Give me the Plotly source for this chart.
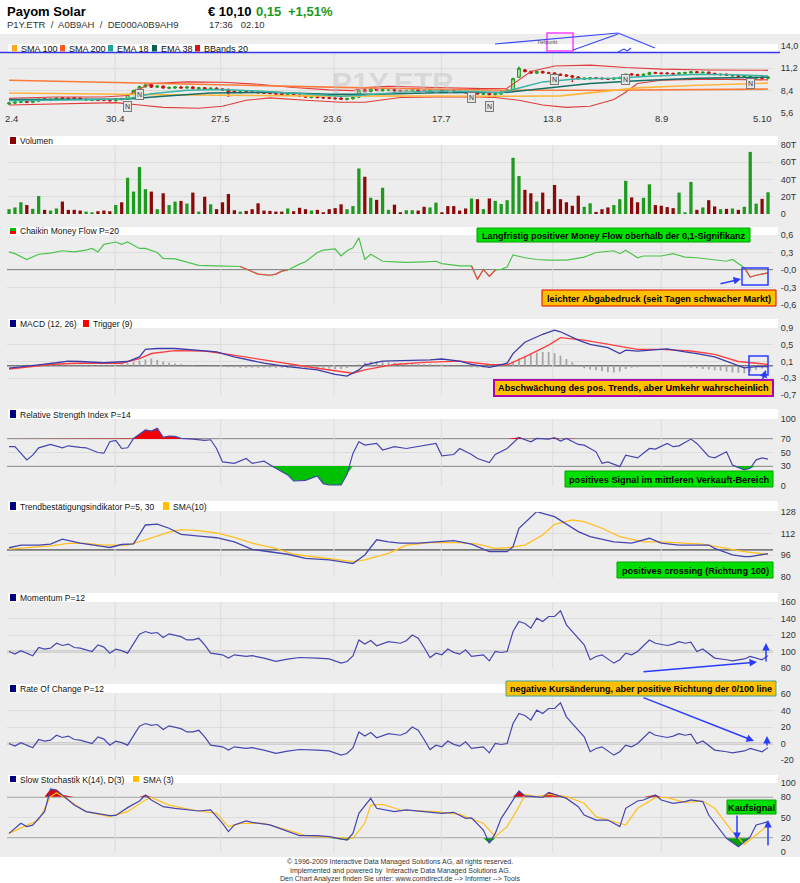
import plotly.graph_objects as go

# ------------------------------------------------------------------ data
date_labels = ["2.4", "30.4", "27.5", "23.6", "17.7", "13.8", "8.9", "5.10"]
date_label_idx = [0.5, 17.9, 35.6, 54.6, 73.0, 91.7, 110.0, 127.0]
grid_idx = [17.9, 35.7, 54.8, 72.9, 91.7, 110.0]

closes = [6.85, 6.95, 7.05, 6.95, 7.10, 7.30, 7.25, 7.30, 7.45, 7.40,
          7.35, 7.45, 7.40, 7.30, 7.25, 7.20, 7.20, 7.15, 7.35, 7.30,
          7.90, 8.40, 8.90, 9.10, 8.85, 8.95, 8.75, 8.80, 8.85, 8.75,
          8.85, 8.70, 8.75, 8.65, 8.70, 8.60, 8.50, 8.10, 8.20, 8.25,
          8.25, 8.20, 8.15, 8.10, 8.05, 8.00, 7.90, 7.95, 7.85, 7.75,
          7.60, 7.65, 7.55, 7.50, 7.45, 7.40, 7.35, 7.40, 7.55, 8.40,
          8.30, 8.60, 8.45, 8.55, 8.50, 8.40, 8.35, 8.40, 8.45, 8.40,
          8.35, 8.40, 8.45, 8.40, 8.35, 8.30, 8.25, 8.15, 8.20, 8.00,
          8.05, 7.90, 8.00, 8.20, 8.50, 9.90, 11.20, 10.80, 10.60, 10.80,
          10.65, 10.60, 10.45, 10.35, 10.25, 10.10, 9.90, 9.95, 10.00, 9.95,
          9.90, 9.85, 9.95, 10.05, 10.45, 10.40, 10.30, 10.45, 10.65, 10.60,
          10.55, 10.55, 10.50, 10.60, 10.65, 10.75, 10.70, 10.70, 10.55, 10.45,
          10.45, 10.35, 10.30, 10.20, 10.25, 10.15, 10.05, 9.95, 10.10]
opens = [6.75, 6.85, 6.95, 7.05, 6.95, 7.10, 7.35, 7.20, 7.30, 7.50,
         7.45, 7.50, 7.45, 7.25, 7.20, 7.25, 7.25, 7.20, 7.15, 7.40,
         7.35, 7.95, 8.40, 8.90, 9.15, 8.85, 8.95, 8.70, 8.75, 8.85,
         8.75, 8.85, 8.65, 8.75, 8.60, 8.70, 8.60, 8.55, 8.30, 8.15,
         8.30, 8.25, 8.20, 8.15, 8.10, 8.05, 8.00, 7.85, 7.95, 7.85,
         7.75, 7.55, 7.65, 7.55, 7.50, 7.45, 7.45, 7.30, 7.40, 7.60,
         8.50, 8.30, 8.60, 8.40, 8.45, 8.50, 8.40, 8.35, 8.40, 8.45,
         8.40, 8.35, 8.40, 8.45, 8.40, 8.35, 8.30, 8.25, 8.10, 8.20,
         7.95, 8.05, 7.90, 8.00, 8.20, 8.50, 10.10, 11.00, 10.80, 10.60,
         10.80, 10.65, 10.60, 10.45, 10.35, 10.25, 10.10, 9.85, 9.90, 10.00,
         9.95, 9.90, 9.85, 9.95, 10.05, 10.50, 10.40, 10.30, 10.45, 10.65,
         10.60, 10.60, 10.55, 10.50, 10.60, 10.65, 10.75, 10.65, 10.70, 10.55,
         10.40, 10.45, 10.25, 10.30, 10.15, 10.05, 9.95, 10.10, 9.95]
highs = [6.90, 7.00, 7.10, 7.10, 7.15, 7.35, 7.40, 7.35, 7.50, 7.55,
         7.50, 7.55, 7.50, 7.35, 7.30, 7.30, 7.30, 7.25, 7.40, 7.45,
         7.95, 8.45, 8.95, 9.20, 9.20, 9.00, 9.00, 8.85, 8.90, 8.90,
         8.90, 8.90, 8.80, 8.80, 8.75, 8.75, 8.65, 8.60, 8.35, 8.30,
         8.35, 8.30, 8.25, 8.20, 8.15, 8.10, 8.05, 8.00, 8.00, 7.90,
         7.80, 7.70, 7.70, 7.60, 7.55, 7.50, 7.50, 7.45, 7.60, 8.50,
         8.60, 8.65, 8.65, 8.60, 8.55, 8.55, 8.45, 8.45, 8.50, 8.50,
         8.45, 8.45, 8.50, 8.50, 8.45, 8.40, 8.35, 8.30, 8.25, 8.25,
         8.10, 8.10, 8.05, 8.25, 8.55, 9.95, 11.35, 11.05, 10.85, 10.85,
         10.85, 10.70, 10.65, 10.50, 10.40, 10.30, 10.15, 10.00, 10.05, 10.05,
         10.00, 9.95, 10.00, 10.10, 10.50, 10.55, 10.45, 10.50, 10.70, 10.70,
         10.65, 10.65, 10.60, 10.65, 10.70, 10.80, 10.80, 10.75, 10.75, 10.60,
         10.50, 10.50, 10.35, 10.35, 10.30, 10.20, 10.10, 10.15, 10.15]
lows = [6.70, 6.80, 6.90, 6.90, 6.90, 7.05, 7.20, 7.15, 7.25, 7.35,
        7.30, 7.40, 7.35, 7.20, 7.15, 7.15, 7.15, 7.10, 7.10, 7.25,
        7.30, 7.90, 8.35, 8.85, 8.80, 8.80, 8.70, 8.65, 8.70, 8.70,
        8.70, 8.65, 8.60, 8.60, 8.55, 8.55, 8.45, 7.70, 8.15, 8.10,
        8.20, 8.15, 8.10, 8.05, 8.00, 7.95, 7.85, 7.80, 7.80, 7.70,
        7.55, 7.50, 7.50, 7.45, 7.40, 7.35, 7.30, 7.25, 7.35, 7.55,
        8.25, 8.25, 8.40, 8.35, 8.40, 8.35, 8.30, 8.30, 8.35, 8.35,
        8.30, 8.30, 8.35, 8.35, 8.30, 8.25, 8.20, 8.10, 8.05, 7.95,
        7.90, 7.60, 7.85, 7.95, 8.15, 8.45, 10.05, 10.75, 10.55, 10.55,
        10.60, 10.55, 10.40, 10.30, 10.20, 9.55, 9.85, 9.80, 9.85, 9.90,
        9.85, 9.80, 9.80, 9.90, 10.00, 10.35, 10.25, 10.25, 10.40, 10.55,
        10.50, 10.50, 10.45, 10.45, 10.55, 10.60, 10.65, 10.60, 10.50, 10.40,
        10.35, 10.30, 10.20, 10.15, 10.10, 10.00, 9.90, 9.90, 9.90]

sma100 = [(0, 8.10), (15, 7.95), (30, 7.85), (50, 7.75), (70, 7.70), (85, 7.70), (93, 7.75),
          (100, 8.30), (106, 8.75), (115, 9.05), (128, 9.35)]
sma200 = [(0, 9.70), (15, 9.45), (30, 9.20), (45, 8.95), (60, 8.75), (75, 8.55), (85, 8.45),
          (100, 8.45), (115, 8.55), (128, 8.60)]
ema18 = [(0, 7.15), (8, 7.20), (16, 7.30), (20, 7.40), (24, 8.00), (30, 8.45), (36, 8.55),
         (42, 8.35), (50, 8.00), (56, 7.70), (60, 7.85), (66, 8.20), (72, 8.35), (78, 8.30),
         (83, 8.15), (86, 8.70), (90, 9.50), (96, 9.90), (102, 9.95), (108, 10.20), (116, 10.45),
         (122, 10.40), (128, 10.25)]
ema38 = [(0, 7.30), (10, 7.30), (20, 7.35), (26, 7.70), (34, 8.10), (44, 8.20), (54, 7.95),
         (62, 7.95), (72, 8.15), (84, 8.20), (90, 8.70), (98, 9.30), (106, 9.65), (116, 9.95),
         (128, 10.10)]
bb_upper = [(0, 7.45), (8, 7.60), (16, 7.60), (20, 7.80), (22, 8.60), (24, 9.30), (30, 9.50),
            (36, 9.45), (42, 9.20), (48, 8.80), (54, 8.50), (58, 8.40), (60, 8.80), (64, 8.95),
            (72, 8.80), (80, 8.65), (84, 8.70), (86, 9.80), (88, 10.80), (92, 11.50), (98, 11.60),
            (104, 11.30), (110, 11.10), (118, 11.00), (128, 10.95)]
bb_lower = [(0, 6.60), (10, 6.75), (18, 6.90), (22, 6.60), (26, 6.30), (32, 6.20), (36, 6.45),
            (40, 7.20), (44, 7.50), (50, 7.20), (56, 6.95), (60, 6.95), (66, 7.55), (72, 7.60),
            (78, 7.65), (82, 7.55), (86, 7.20), (90, 6.60), (94, 6.30), (98, 6.45), (102, 7.30),
            (104, 8.20), (106, 9.30), (110, 9.70), (118, 9.85), (128, 9.75)]
news_idx = [20, 22, 78, 81, 92, 104, 125]
news_price = [6.47, 7.95, 7.53, 6.47, 9.77, 9.77, 9.25]

volume = [5.6, 7.6, 13.6, 10.4, 6.0, 20.8, 4.8, 4.0, 6.4, 14.4,
          4.8, 4.8, 4.0, 2.8, 2.0, 3.2, 4.0, 3.2, 10.4, 13.6,
          42.0, 26.0, 54.4, 28.8, 26.0, 5.6, 24.0, 10.4, 14.4, 15.2,
          12.0, 24.8, 2.8, 20.0, 11.2, 5.6, 13.6, 23.2, 4.4, 2.8,
          3.6, 5.6, 12.4, 4.0, 3.6, 2.8, 2.8, 6.4, 3.2, 7.2,
          5.6, 4.0, 4.8, 2.0, 5.6, 6.8, 11.2, 5.6, 9.2, 52.8,
          43.2, 18.8, 16.4, 30.4, 4.8, 10.8, 2.0, 4.4, 4.4, 4.0,
          8.4, 7.6, 13.2, 2.0, 9.2, 9.2, 4.0, 6.4, 18.0, 17.2,
          5.6, 18.0, 15.2, 11.6, 16.0, 65.2, 44.0, 28.0, 24.0, 14.4,
          24.8, 5.6, 33.6, 17.2, 13.6, 9.6, 21.2, 8.4, 12.4, 2.4,
          5.6, 7.6, 10.4, 17.2, 38.4, 19.2, 13.6, 18.8, 34.4, 10.4,
          9.6, 8.0, 6.8, 24.8, 2.0, 37.2, 4.8, 7.6, 16.0, 8.8,
          5.6, 6.0, 6.4, 4.8, 8.4, 72.0, 12.0, 17.6, 25.2]
volume_dir = ("gggrggrggr" "rrrggrrrgr" "ggggrgrggr" "grgrgrrrrg" "rrrrrrrgrr"
              "rgrrrrrggg" "rgrggrrggr" "rggrrrrrgr" "grgggggrrg" "rrrrrrrggr"
              "rrgggrrggr" "rrrgggrgrr" "grgrgggrg")

cmf = [(0, 0.31), (1, 0.28), (3, 0.18), (5, 0.27), (7, 0.29), (9, 0.33), (11, 0.31), (13, 0.34),
       (14, 0.37), (15, 0.31), (16, 0.44), (18, 0.48), (19, 0.44), (20, 0.48), (22, 0.37),
       (23, 0.37), (25, 0.30), (26, 0.20), (28, 0.19), (30, 0.13), (32, 0.08), (35, 0.07),
       (38, 0.07), (39, 0.06), (41, -0.03), (42, -0.07), (44, -0.09), (45, -0.07), (46, -0.02),
       (47, 0.0), (49, 0.10), (50, 0.14), (52, 0.30), (53, 0.34), (55, 0.36), (56, 0.24),
       (57, 0.33), (58, 0.38), (59, 0.55), (60, 0.18), (61, 0.27), (63, 0.15), (65, 0.14),
       (67, 0.13), (70, 0.14), (72, 0.15), (73, 0.11), (76, 0.07), (78, 0.07), (79, -0.16),
       (80, 0.01), (81, -0.11), (82, 0.0), (83, 0.01), (84, 0.05), (85, 0.26), (87, 0.21),
       (89, 0.18), (91, 0.17), (94, 0.17), (97, 0.22), (99, 0.30), (102, 0.33), (103, 0.28),
       (104, 0.34), (106, 0.21), (107, 0.24), (110, 0.24), (112, 0.28), (114, 0.22),
       (116, 0.21), (119, 0.18), (121, 0.15), (122, 0.18), (124, 0.04), (125, -0.12),
       (126, -0.09), (128, -0.05)]

macd = [(0, -0.06), (3, -0.02), (5, 0.02), (8, 0.07), (10, 0.11), (12, 0.10), (16, 0.07),
        (20, 0.10), (22, 0.21), (23, 0.39), (25, 0.41), (28, 0.41), (31, 0.37), (35, 0.33),
        (38, 0.21), (43, 0.06), (47, -0.02), (52, -0.10), (55, -0.21), (57, -0.25), (59, -0.10),
        (60, 0.02), (63, 0.11), (67, 0.12), (71, 0.14), (73, 0.16), (76, 0.11), (78, 0.03),
        (81, -0.04), (82, -0.01), (84, 0.06), (85, 0.29), (87, 0.56), (90, 0.75), (92, 0.85),
        (93, 0.81), (96, 0.61), (98, 0.51), (101, 0.43), (103, 0.29), (104, 0.37), (106, 0.35),
        (109, 0.39), (111, 0.40), (114, 0.33), (116, 0.29), (119, 0.21), (122, 0.06),
        (124, -0.05), (126, -0.02), (128, -0.02)]
trigger = [(0, -0.08), (7, 0.03), (11, 0.06), (19, 0.06), (22, 0.17), (24, 0.29), (28, 0.36),
           (33, 0.35), (37, 0.27), (41, 0.18), (47, 0.06), (52, -0.06), (58, -0.18), (60, -0.10),
           (65, 0.03), (70, 0.08), (76, 0.11), (81, 0.03), (84, 0.02), (87, 0.21), (91, 0.49),
           (93, 0.67), (97, 0.61), (102, 0.49), (106, 0.39), (110, 0.39), (115, 0.35),
           (119, 0.27), (123, 0.10), (128, 0.03)]
macd_hist = [-0.02, -0.02, 0.02, 0.03, 0.02, 0.03, 0.04, 0.04, 0.04, 0.03,
             0.03, 0.03, 0.03, 0.02, 0.02, 0.01, 0.01, 0.02, 0.03, 0.05,
             0.06, 0.09, 0.12, 0.15, 0.17, 0.14, 0.10, 0.07, 0.05, 0.04,
             0.02, 0.01, 0.00, 0.00, -0.01, -0.02, -0.03, -0.04, -0.04, -0.05,
             -0.05, -0.05, -0.05, -0.05, -0.05, -0.05, -0.05, -0.06, -0.06, -0.06,
             -0.06, -0.07, -0.07, -0.07, -0.07, -0.08, -0.08, -0.06, -0.02, 0.03,
             0.08, 0.10, 0.10, 0.09, 0.08, 0.07, 0.06, 0.05, 0.05, 0.04,
             0.04, 0.04, 0.03, 0.03, 0.02, 0.01, 0.00, -0.02, -0.04, -0.05,
             -0.05, -0.05, -0.03, -0.01, 0.04, 0.10, 0.17, 0.24, 0.29, 0.31,
             0.33, 0.33, 0.30, 0.24, 0.16, 0.08, -0.02, -0.06, -0.09, -0.11,
             -0.13, -0.15, -0.16, -0.14, -0.08, -0.05, -0.04, -0.03, -0.02, -0.01,
             0.00, -0.01, -0.02, -0.03, -0.04, -0.05, -0.06, -0.08, -0.09, -0.11,
             -0.12, -0.14, -0.16, -0.17, -0.18, -0.14, -0.10, -0.07, -0.05]

rsi = [(0, 58.7), (1, 58.7), (3, 38.8), (4, 46), (5, 57), (7, 62), (9, 57), (10, 60), (12, 57.7),
       (13, 57), (15, 50), (16, 49), (17, 66), (18, 68), (19, 56), (20, 57), (21, 71), (23, 83.6),
       (24, 82), (25, 86), (26, 72.6), (27, 74.6), (28, 74), (29, 71), (31, 70), (33, 68),
       (34, 69), (35, 56), (36, 36), (38, 33.8), (40, 41), (41, 33.8), (43, 37), (44, 31.4),
       (45, 26.4), (47, 16.5), (48, 7.5), (50, 8.5), (52, 14.9), (53, 3.5), (54, 1.5), (56, 1.5),
       (57, 17.4), (58, 48.7), (59, 66), (60, 61), (62, 63.5), (63, 53.7), (65, 58.7), (67, 56),
       (70, 61), (72, 63.5), (73, 45), (75, 47), (76, 56), (78, 47), (79, 41), (81, 35), (82, 47),
       (84, 56), (86, 72.6), (87, 69.7), (88, 66), (89, 71), (91, 70), (92, 72), (93, 67),
       (94, 71), (96, 62), (97, 61), (99, 51), (100, 33.8), (101, 36), (103, 28.9), (104, 46),
       (106, 42), (108, 56), (109, 55), (111, 63.5), (112, 58.7), (113, 60), (115, 70),
       (116, 63.5), (118, 44), (119, 42), (121, 51), (122, 31.4), (124, 24), (125, 26.4),
       (126, 39), (127, 42), (128, 40)]

tbi = [(0, 101.6), (2, 103.6), (5, 103.6), (7, 104.3), (9, 108), (11, 106), (12, 105),
       (16, 102.4), (17, 101.8), (19, 104), (21, 104.5), (23, 118.4), (25, 119), (27, 116),
       (29, 111.5), (33, 109.8), (35, 109), (38, 106), (41, 100.4), (43, 99.2), (47, 96.8),
       (50, 93.8), (54, 92.6), (57, 90.6), (58, 90), (60, 96.3), (62, 107.5), (64, 106),
       (66, 105), (69, 105), (72, 106), (75, 106.8), (78, 104.3), (81, 98.7), (84, 98.7),
       (85, 102.4), (86, 116), (89, 128.3), (90, 127), (92, 124.6), (96, 113.5), (98, 109.8),
       (102, 106), (105, 105), (108, 108.6), (110, 105), (113, 103.6), (115, 103.6),
       (118, 103.6), (119, 101.2), (122, 96.3), (124, 95), (125, 95), (128, 97.3)]
tbi_sma = [(0, 100.6), (7, 103), (10, 104.8), (13, 104.8), (16, 103.6), (20, 103.6), (23, 107.5),
           (27, 113.2), (29, 115), (32, 114.2), (35, 112.5), (38, 109.3), (41, 105), (45, 101.2),
           (48, 96.8), (53, 93.8), (58, 91.3), (60, 92.6), (64, 97.5), (67, 103.6), (71, 105.4),
           (76, 105.4), (79, 104.3), (82, 101.2), (84, 101.6), (87, 103.6), (90, 111),
           (92, 118.9), (95, 122.1), (97, 120.9), (100, 116), (103, 109.8), (107, 106),
           (110, 106), (114, 104.8), (117, 104.3), (121, 101.2), (124, 98.7), (127, 97.3),
           (128, 96.8)]

momentum = [(0, 100), (1, 97), (2, 101), (3, 98), (4, 94.7), (5, 104.8), (6, 103), (7, 104),
            (8, 110), (9, 107.3), (10, 109), (11, 104.8), (12, 104), (14, 100), (15, 108),
            (16, 105.3), (17, 98), (18, 102.8), (19, 101), (20, 98), (21, 108.9), (22, 121),
            (23, 124.2), (24, 122), (25, 123), (26, 117), (27, 121.4), (29, 118), (30, 114),
            (31, 114), (32, 116), (33, 108), (34, 98), (36, 96), (37, 92), (38, 96), (40, 94),
            (41, 95), (43, 92), (45, 88), (47, 90.7), (49, 92.7), (52, 92), (54, 91), (56, 85.9),
            (57, 87.9), (58, 94.7), (59, 114), (60, 109), (61, 113.3), (62, 106.9), (63, 109),
            (64, 112), (66, 110), (67, 113), (68, 120), (69, 116), (70, 104.8), (71, 92.7),
            (72, 98), (73, 96), (74, 103), (75, 99), (76, 96.8), (77, 102), (78, 94), (80, 96),
            (81, 88.7), (82, 100), (83, 98.8), (84, 100), (85, 124.2), (86, 136.4), (87, 134),
            (88, 128.3), (89, 140.4), (90, 136.4), (91, 142.4), (92, 142.4), (93, 149.3),
            (94, 132.3), (95, 124.2), (97, 108), (98, 90), (99, 94), (100, 96), (102, 85.9),
            (103, 90), (104, 98), (105, 96), (106, 100), (108, 114), (109, 110), (111, 107.3),
            (112, 109), (113, 112), (114, 110), (115, 111.3), (116, 100), (117, 103), (119, 92),
            (121, 90), (122, 88.7), (124, 91), (125, 94), (127, 90), (128, 95)]

roc = [(0, 0), (1, -3), (2, 1), (3, -2), (4, -5.3), (5, 4.8), (6, 3), (7, 4), (8, 10), (9, 7.3),
       (10, 9), (11, 4.8), (12, 4), (14, 0), (15, 8), (16, 5.3), (17, -2), (18, 2.8), (19, 1),
       (20, -2), (21, 8.9), (22, 21), (23, 24.2), (24, 22), (25, 23), (26, 17), (27, 21.4),
       (29, 18), (30, 14), (31, 14), (32, 16), (33, 8), (34, -2), (36, -4), (37, -8), (38, -4),
       (40, -6), (41, -5), (43, -8), (45, -12), (47, -9.3), (49, -7.3), (52, -8), (54, -9),
       (56, -14.1), (57, -12.1), (58, -5.3), (59, 14), (60, 9), (61, 13.3), (62, 6.9), (63, 9),
       (64, 12), (66, 10), (67, 13), (68, 20), (69, 16), (70, 4.8), (71, -7.3), (72, -2),
       (73, -4), (74, 3), (75, -1), (76, -3.2), (77, 2), (78, -6), (80, -4), (81, -11.3),
       (82, 0), (83, -1.2), (84, 0), (85, 24.2), (86, 36.4), (87, 34), (88, 28.3), (89, 40.4),
       (90, 36.4), (91, 42.4), (92, 42.4), (93, 49.3), (94, 32.3), (95, 24.2), (97, 8),
       (98, -10), (99, -6), (100, -4), (102, -14.1), (103, -10), (104, -2), (105, -4), (106, 0),
       (108, 14), (109, 10), (111, 7.3), (112, 9), (113, 12), (114, 10), (115, 11.3), (116, 0),
       (117, 3), (119, -8), (121, -10), (122, -11.3), (124, -9), (125, -6), (127, -10), (128, -5)]

stoch_k = [(0, 27), (2, 41.6), (3, 36.8), (4, 39), (6, 58.5), (7, 91.3), (8, 89.9), (9, 82.6),
           (11, 68), (13, 58.5), (15, 56), (17, 52.6), (18, 53), (20, 64.3), (22, 73.9),
           (23, 82.6), (24, 75.4), (26, 65.7), (28, 63.3), (30, 60.9), (32, 59.4), (34, 61),
           (36, 41.6), (37, 29.5), (38, 39.2), (40, 45), (41, 43), (44, 39.2), (47, 29.5),
           (49, 23.7), (52, 23.7), (54, 22.2), (57, 17.4), (58, 27), (59, 56), (61, 77.7),
           (62, 63.3), (65, 58.5), (67, 61), (70, 58.5), (73, 56), (75, 57.5), (77, 48.7),
           (78, 49.6), (80, 31.9), (81, 12.6), (82, 27), (83, 48.7), (85, 75.4), (86, 88.4),
           (87, 81.2), (88, 80.2), (90, 79.2), (91, 86.5), (92, 83.6), (94, 77.7), (96, 65.7),
           (97, 53.6), (99, 46.3), (101, 46.3), (103, 36.8), (104, 63.3), (106, 73.9),
           (107, 75.4), (109, 82.6), (110, 75.4), (112, 70.6), (114, 73), (115, 75.4),
           (117, 73), (118, 53.6), (121, 19.8), (123, 7.7), (125, 22.2), (126, 39.2), (128, 44)]
stoch_d = [(0, 27), (3, 39.1), (5, 46.4), (7, 80.2), (8, 86), (10, 75.4), (13, 58.5), (17, 51.2),
           (20, 58.5), (23, 75.4), (24, 79.2), (27, 68), (31, 60.9), (35, 56), (37, 36.8),
           (39, 41.6), (43, 41.6), (47, 31.9), (50, 23.7), (55, 20.8), (58, 19.8), (60, 41.6),
           (61, 68), (63, 69), (66, 60.9), (72, 58.5), (76, 54.6), (80, 41.6), (82, 22.2),
           (84, 36.8), (86, 65.7), (87, 83.6), (89, 80.2), (91, 83.6), (94, 80.2), (97, 70.6),
           (99, 51.2), (102, 43.9), (104, 39.1), (106, 63.3), (109, 78.7), (111, 78.7),
           (114, 71.9), (117, 73.9), (119, 63.3), (122, 29.5), (124, 11.1), (126, 24.6),
           (128, 39.1)]

price_ticks = [14.0, 11.2, 8.4, 5.6]
price_tick_text = ["14,0", "11,2", "8,4", "5,6"]
vol_ticks = [80, 60, 40, 20, 0]
vol_tick_text = ["80T", "60T", "40T", "20T", "0"]
cmf_ticks = [0.6, 0.3, 0.0, -0.3, -0.6]
cmf_tick_text = ["0,6", "0,3", "-0,0", "-0,3", "-0,6"]
macd_ticks = [0.9, 0.5, 0.1, -0.3, -0.7]
macd_tick_text = ["0,9", "0,5", "0,1", "-0,3", "-0,7"]
rsi_ticks = [100, 70, 50, 30, 0]
tbi_ticks = [128, 112, 96, 80]
mom_ticks = [160, 140, 120, 100, 80]
roc_ticks = [60, 40, 20, 0, -20]
sto_ticks = [100, 80, 50, 20, 0]

# ------------------------------------------------------------------ layout helpers
W, H = 800, 883
PX_L, PX_R = 7, 773
XR = [-0.34, 128.84]
SANS = "Liberation Sans, Arial, sans-serif"
BG = "#EDEDED"
BLUE = "#4646B0"
YEL = "#FFC020"


def fx(p):
    return p / W


def fy(p):
    return 1 - p / H


def unzip(pairs):
    return [p[0] for p in pairs], [p[1] for p in pairs]


# panel: (plot top px, plot bottom px, range, ticks, ticktext, strip top, strip bottom)
panels = [
    (46, 113, [5.6, 14.0], price_ticks, price_tick_text, 44, 52.5),
    (145, 214, [0, 80], vol_ticks, vol_tick_text, 136, 145),
    (235, 305, [-0.6, 0.6], cmf_ticks, cmf_tick_text, 227, 235),
    (328, 395, [-0.7, 0.9], macd_ticks, macd_tick_text, 319, 328),
    (419, 486, [0, 100], rsi_ticks, [str(t) for t in rsi_ticks], 409, 419),
    (512, 577, [80, 128], tbi_ticks, [str(t) for t in tbi_ticks], 501, 511),
    (602, 668, [80, 160], mom_ticks, [str(t) for t in mom_ticks], 593, 602),
    (694, 760, [-20, 60], roc_ticks, [str(t) for t in roc_ticks], 684, 693),
    (783, 852, [0, 100], sto_ticks, [str(t) for t in sto_ticks], 775, 783),
]

fig = go.Figure()
shapes = []
annotations = []


def ax(n):
    return ("x", "y") if n == 1 else (f"x{n}", f"y{n}")


def add(tr, n):
    xa, ya = ax(n)
    tr.update(xaxis=xa, yaxis=ya, showlegend=False, hoverinfo="skip")
    fig.add_trace(tr)


def line(n, pairs, color, width=1.2):
    xs, ys = unzip(pairs)
    add(go.Scatter(x=xs, y=ys, mode="lines", line=dict(color=color, width=width)), n)


def band_fill(n, pairs, level, above, color):
    xs, ys = unzip(pairs)
    base = [level] * len(xs)
    clipped = [max(v, level) if above else min(v, level) for v in ys]
    add(go.Scatter(x=xs, y=base, mode="lines", line=dict(width=0)), n)
    add(go.Scatter(x=xs, y=clipped, mode="lines", line=dict(width=0), fill="tonexty",
                   fillcolor=color), n)


def hline(n, val, color="#7A7A7A", width=1.6, dash="solid"):
    xa, ya = ax(n)
    shapes.append(dict(type="line", xref=f"{xa} domain", yref=ya, x0=0, x1=1, y0=val, y1=val,
                       line=dict(color=color, width=width, dash=dash), layer="below"))


# ------------------------------------------------------------------ traces
line(1, bb_upper, "#E23B3B", 1.1)
line(1, bb_lower, "#E23B3B", 1.1)
line(1, sma200, "#FF7A3A", 1.6)
line(1, sma100, "#FFB43C", 1.6)
line(1, ema38, "#166E64", 1.5)
line(1, ema18, "#3BB3A6", 1.5)
idx = list(range(len(closes)))
add(go.Candlestick(x=idx, open=opens, high=highs, low=lows, close=closes,
                   increasing=dict(line=dict(color="#1E9E1E", width=1), fillcolor="rgba(120,210,120,0.6)"),
                   decreasing=dict(line=dict(color="#C81414", width=1), fillcolor="#C81414"),
                   whiskerwidth=0.6), 1)

add(go.Bar(x=idx, y=volume, width=0.55,
           marker=dict(color=["#1E9A1E" if d == "g" else "#8A0A0A" for d in volume_dir],
                       line=dict(width=0))), 2)

hline(3, 0, "#666666", 1.4)
cx, cy = unzip(cmf)
add(go.Scatter(x=cx, y=cy, mode="lines", line=dict(color="#4CC44C", width=1.2)), 3)
cy_red = [v if (v < 0 or (k > 0 and cy[k - 1] < 0) or (k < len(cy) - 1 and cy[k + 1] < 0)) else None
          for k, v in enumerate(cy)]
add(go.Scatter(x=cx, y=cy_red, mode="lines", line=dict(color="#F04848", width=1.2),
               connectgaps=False), 3)

hline(4, 0, "#777777", 1.4)
add(go.Bar(x=idx, y=macd_hist, width=0.3, marker=dict(color="#A5A5A5", line=dict(width=0))), 4)
line(4, trigger, "#FF4040", 1.4)
line(4, macd, "#3C3CA8", 1.3)

hline(5, 70)
hline(5, 30)
hline(5, 50, "#8A8A8A", 1, "dot")
band_fill(5, rsi, 70, True, "#F00000")
band_fill(5, rsi, 30, False, "#00C000")
line(5, rsi, BLUE)

hline(6, 100)
line(6, tbi_sma, YEL, 1.3)
line(6, tbi, BLUE, 1.3)

hline(7, 100)
line(7, momentum, BLUE)
hline(8, 0)
line(8, roc, BLUE)

hline(9, 80)
hline(9, 20)
hline(9, 50, "#8A8A8A", 1, "dot")
band_fill(9, stoch_k, 80, True, "#E00000")
band_fill(9, stoch_k, 20, False, "#00A000")
line(9, stoch_d, YEL, 1.2)
line(9, stoch_k, BLUE, 1.2)

# ------------------------------------------------------------------ axes
layout_axes = {}
for n, (top, bot, rng, tv, tt, st, sb) in enumerate(panels, start=1):
    xa, ya = ax(n)
    xkey = "xaxis" if n == 1 else f"xaxis{n}"
    ykey = "yaxis" if n == 1 else f"yaxis{n}"
    layout_axes[xkey] = dict(domain=[fx(PX_L), fx(PX_R)], range=XR, anchor=ya, showgrid=False,
                             showticklabels=False, zeroline=False, showline=False, ticks="",
                             automargin=False, fixedrange=True, rangeslider=dict(visible=False),
                             **({} if n == 1 else {"matches": "x"}))
    layout_axes[ykey] = dict(domain=[fy(bot), fy(top)], range=rng, anchor=xa, side="right",
                             tickvals=tv, ticktext=tt, showgrid=True, gridcolor="#DCDCDC",
                             gridwidth=1, zeroline=False, showline=False, ticks="outside",
                             ticklen=5, tickcolor="rgba(0,0,0,0)", automargin=False,
                             tickfont=dict(family=SANS, size=9, color="#333333"), fixedrange=True)
    for g in grid_idx:
        shapes.append(dict(type="line", xref=xa, yref=f"{ya} domain", x0=g, x1=g, y0=0, y1=1,
                           line=dict(color="#DCDCDC", width=1), layer="below"))
    shapes.append(dict(type="rect", xref="paper", yref="paper", x0=fx(8), x1=fx(778),
                       y0=fy(sb), y1=fy(st), fillcolor="white", line=dict(width=0), layer="above"))

shapes.insert(0, dict(type="rect", xref="paper", yref="paper", x0=0, x1=1, y0=fy(857), y1=fy(34),
                      fillcolor=BG, line=dict(width=0), layer="below"))
shapes.append(dict(type="line", xref="paper", yref="paper", x0=fx(0), x1=fx(780), y0=fy(52.5),
                   y1=fy(52.5), line=dict(color="#3535F0", width=1.5), layer="above"))

# ------------------------------------------------------------------ legends
legends = [
    (1, [(12, "#FFA51E", "SMA 100"), (60, "#FF5A1F", "SMA 200"), (108, "#1FA39A", "EMA 18"),
         (152, "#0B5F55", "EMA 38"), (195, "#E01010", "BBands 20")]),
    (2, [(10, "#8B0000", "Volumen")]),
    (3, [(10, "split", "Chaikin Money Flow P=20")]),
    (4, [(10, "#000080", "MACD (12, 26)"), (83, "#FF0000", "Trigger (9)")]),
    (5, [(10, "#000080", "Relative Strength Index P=14")]),
    (6, [(10, "#000080", "Trendbestätigungsindikator P=5, 30"), (163, "#FFC000", "SMA(10)")]),
    (7, [(10, "#000080", "Momentum P=12")]),
    (8, [(10, "#000080", "Rate Of Change P=12")]),
    (9, [(10, "#000080", "Slow Stochastik K(14), D(3)"), (133, "#FFC000", "SMA (3)")]),
]
for n, items in legends:
    st, sb = panels[n - 1][5], panels[n - 1][6]
    mid = (st + sb) / 2
    for sx, col, txt in items:
        sq = 5 if n == 1 else 6
        if col == "split":
            shapes.append(dict(type="rect", xref="paper", yref="paper", x0=fx(sx), x1=fx(sx + sq),
                               y0=fy(mid), y1=fy(st + 1), fillcolor="#00C000", line=dict(width=0),
                               layer="above"))
            shapes.append(dict(type="rect", xref="paper", yref="paper", x0=fx(sx), x1=fx(sx + sq),
                               y0=fy(sb - 1), y1=fy(mid), fillcolor="#FF0000", line=dict(width=0),
                               layer="above"))
        else:
            shapes.append(dict(type="rect", xref="paper", yref="paper", x0=fx(sx), x1=fx(sx + sq),
                               y0=fy(sb - 1), y1=fy(st + 1), fillcolor=col, line=dict(width=0),
                               layer="above"))
        annotations.append(dict(text=txt, x=fx(sx + sq + 2), y=fy(mid + 0.5), xref="paper",
                                yref="paper", xanchor="left", yanchor="middle", showarrow=False,
                                font=dict(family=SANS, size=9 if n == 1 else 8.5,
                                          color="#111111")))

for lab, xi in zip(date_labels, date_label_idx):
    annotations.append(dict(text=lab, x=xi, y=fy(119), xref="x", yref="paper", xanchor="center",
                            yanchor="middle", showarrow=False,
                            font=dict(family=SANS, size=9.5, color="#333333")))

for ni, npz in zip(news_idx, news_price):
    annotations.append(dict(text="N", x=ni, y=npz, xref="x", yref="y", showarrow=False,
                            font=dict(family=SANS, size=7, color="#333333"), bgcolor="#E4E4E4",
                            bordercolor="#7A7A7A", borderwidth=1, borderpad=1))

annotations.append(dict(text="<b>P1Y.ETR</b>", x=fx(393), y=fy(82), xref="paper", yref="paper",
                        xanchor="center", yanchor="middle", showarrow=False,
                        font=dict(family=SANS, size=30, color="rgba(190,190,190,0.45)")))


# ------------------------------------------------------------------ comment boxes and arrows
def box(text, x0, x1, y0, y1, bg, border, bw, size=9.2):
    shapes.append(dict(type="rect", xref="paper", yref="paper", x0=fx(x0), x1=fx(x1), y0=fy(y1),
                       y1=fy(y0), fillcolor=bg, line=dict(color=border, width=bw), layer="above"))
    annotations.append(dict(text=f"<b>{text}</b>", x=fx((x0 + x1) / 2), y=fy((y0 + y1) / 2 + 0.5),
                            xref="paper", yref="paper", showarrow=False, xanchor="center",
                            yanchor="middle", font=dict(family=SANS, size=size, color="#000000")))


def arrow(tx, ty, hx, hy, color="#2A3CFF", head=2):
    annotations.append(dict(text="", x=fx(hx), y=fy(hy), xref="paper", yref="paper",
                            ax=tx - hx, ay=ty - hy, showarrow=True, arrowhead=head, arrowsize=1,
                            arrowwidth=1.5, arrowcolor=color))


def rect(x0, y0, x1, y1, color, width=1.5):
    shapes.append(dict(type="rect", xref="paper", yref="paper", x0=fx(x0), x1=fx(x1), y0=fy(y1),
                       y1=fy(y0), line=dict(color=color, width=width), layer="above"))


def seg(x0, y0, x1, y1, color="#3A48FF", width=1.2):
    shapes.append(dict(type="line", xref="paper", yref="paper", x0=fx(x0), x1=fx(x1), y0=fy(y0),
                       y1=fy(y1), line=dict(color=color, width=width), layer="above"))


box("Langfristig positiver Money Flow oberhalb der 0,1-Signifikanz", 477, 750, 228, 242,
    "#00E000", "#00A000", 1, 9.0)
box("leichter Abgabedruck (seit Tagen schwacher Markt)", 542, 776, 290, 306, "#FFC000", "#E00000", 1)
box("Abschwächung des pos. Trends, aber Umkehr wahrscheinlich", 494, 773, 380, 396, "#FFC000",
    "#B000B0", 2)
box("positives Signal im mittleren Verkauft-Bereich", 565, 773, 471, 487, "#00E000", "#00A000", 1)
box("positives crossing (Richtung 100)", 617, 773, 562, 578, "#00E000", "#00A000", 1)
box("negative Kursänderung, aber positive Richtung der 0/100 line", 506, 776, 681, 696, "#FFC000",
    "#40A0A0", 1, 9.0)
box("Kaufsignal", 727, 776, 800, 814, "#00E000", "#00A000", 1)

rect(742, 268, 768, 285, "#2A3CFF")
arrow(719, 284, 741, 279)
rect(749, 356, 768, 375, "#2A3CFF")
arrow(762, 381, 766, 370)
arrow(642, 672, 757, 662)
arrow(766, 663, 766, 643)
arrow(642, 697, 754, 741)
arrow(767, 747, 767, 736)
arrow(737, 814, 737, 840)
arrow(768, 847, 768, 820)

rect(547, 33, 573, 51, "#FF40FF", 1.5)
annotations.append(dict(text="Tiefpunkt", x=fx(560), y=fy(37), xref="paper", yref="paper",
                        showarrow=False, font=dict(family=SANS, size=5, color="#555555")))
seg(495, 44, 618, 33)
seg(573, 50, 618, 34)
seg(618, 33, 655, 48)
seg(618, 52, 624, 49)
seg(624, 49, 627, 51)
seg(627, 51, 631, 48)

# ------------------------------------------------------------------ header / footer
hdr = [
    ("<b>Payom Solar</b>", 5, 11, 13, "#000000"),
    ("P1Y.ETR  /  A0B9AH  /  DE000A0B9AH9", 5, 25, 9.5, "#333333"),
    ("<b>€ 10,10</b>", 206, 11, 13, "#000000"),
    ("<b>0,15</b>", 254, 11, 13, "#1A9A1A"),
    ("<b>+1,51%</b>", 286, 11, 13, "#1A9A1A"),
    ("17:36   02.10", 207, 25, 9.5, "#333333"),
]
for txt, x, y, s, c in hdr:
    annotations.append(dict(text=txt, x=fx(x), y=fy(y), xref="paper", yref="paper",
                            xanchor="left", yanchor="middle", showarrow=False,
                            font=dict(family=SANS, size=s, color=c)))
footer = [
    "© 1996-2009 Interactive Data Managed Solutions AG, all rights reserved.",
    "Implemented and powered by  Interactive Data Managed Solutions AG.",
    "Den Chart Analyzer finden Sie unter: www.comdirect.de --> Informer --> Tools",
]
for k, txt in enumerate(footer):
    annotations.append(dict(text=txt, x=0.5, y=fy(862 + 8.5 * k), xref="paper", yref="paper",
                            xanchor="center", yanchor="middle", showarrow=False,
                            font=dict(family=SANS, size=7, color="#333333")))

fig.update_layout(
    width=W, height=H, margin=dict(l=0, r=0, t=0, b=0, pad=0),
    paper_bgcolor="white", plot_bgcolor=BG, showlegend=False, hovermode=False,
    barmode="overlay", shapes=shapes, annotations=annotations, **layout_axes,
)

fig.write_html("out.html", config={"displayModeBar": False, "staticPlot": True},
               post_script="document.body.style.margin='0';")
